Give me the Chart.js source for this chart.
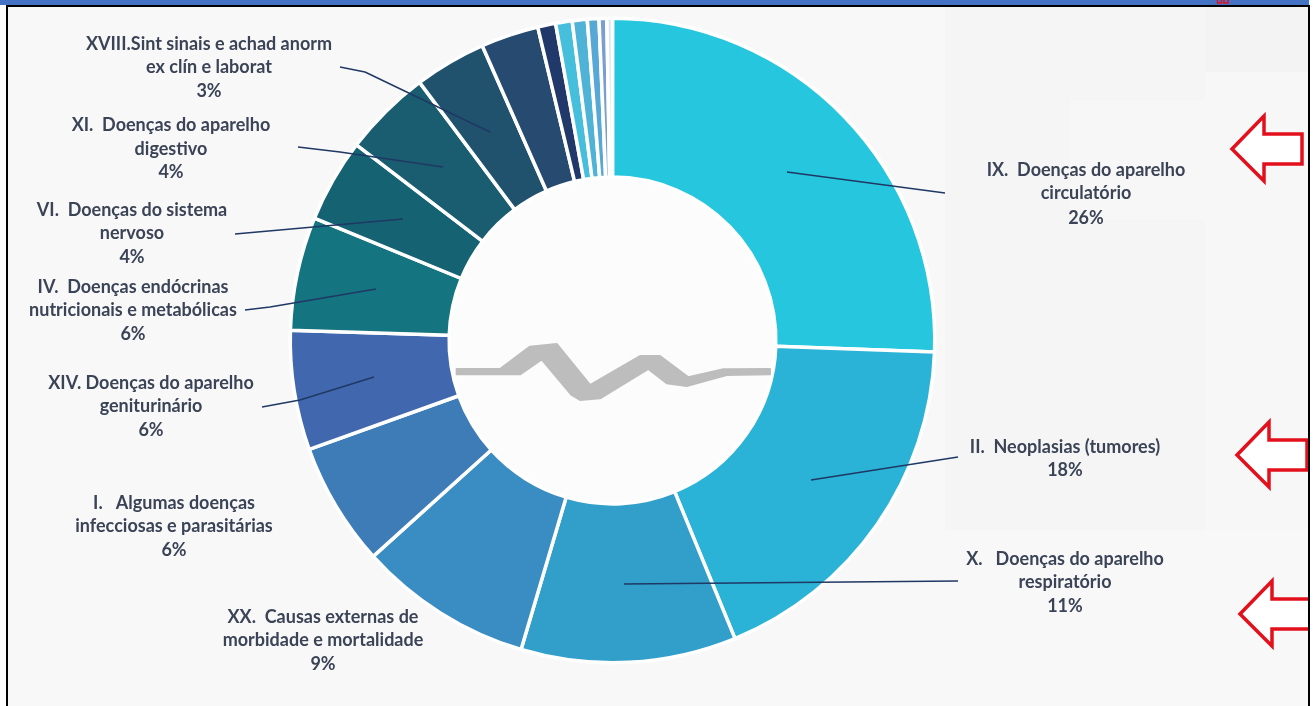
<!DOCTYPE html>
<html lang="pt"><head><meta charset="utf-8">
<style>html,body{margin:0;padding:0;background:#fff;overflow:hidden}canvas{display:block}</style>
<script src="https://cdn.jsdelivr.net/npm/chart.js@4"></script></head>
<body><div style="width:1315px;height:706px"><canvas id="c" width="1315" height="706"></canvas></div>
<script>
const categories = ["IX. Doenças do aparelho circulatório","II. Neoplasias (tumores)","X. Doenças do aparelho respiratório","XX. Causas externas de morbidade e mortalidade","I. Algumas doenças infecciosas e parasitárias","XIV. Doenças do aparelho geniturinário","IV. Doenças endócrinas nutricionais e metabólicas","VI. Doenças do sistema nervoso","XI. Doenças do aparelho digestivo","XVIII.Sint sinais e achad anorm ex clín e laborat","Outros 1","Outros 2","Outros 3","Outros 4","Outros 5","Outros 6","Outros 7"];
const values = [25.6,18.25,10.8,8.75,6.2,6.0,5.7,4.2,4.4,3.6,2.9,0.9,0.83,0.75,0.58,0.39,0.28];
const colors = ["#26C6DE","#2AB3D6","#319FCA","#3A8DC3","#3E7CB8","#4168AE","#14747F","#156273","#1A5C70","#20526E","#264A70","#20396A","#45BFDC","#4FB3D8","#58A8D5","#7A9FCC","#D8E8F0"];
const labelLines = [
 [1086,[["IX.  Doenças do aparelho",170],["circulatório",193],["26%",218]]],
 [1065,[["II.  Neoplasias (tumores)",447],["18%",470]]],
 [1065,[["X.   Doenças do aparelho",559],["respiratório",582],["11%",606]]],
 [323,[["XX.  Causas externas de",617],["morbidade e mortalidade",640],["9%",664]]],
 [174,[["I.   Algumas doenças",503],["infecciosas e parasitárias",526],["6%",550]]],
 [151,[["XIV. Doenças do aparelho",383],["geniturinário",406],["6%",430]]],
 [133,[["IV.  Doenças endócrinas",287],["nutricionais e metabólicas",310],["6%",334]]],
 [132,[["VI.  Doenças do sistema",210],["nervoso",233],["4%",257]]],
 [171,[["XI.  Doenças do aparelho",125],["digestivo",149],["4%",172]]],
 [209,[["XVIII.Sint sinais e achad anorm",44],["ex clín e laborat",67],["3%",91]]]
];
const leaders = [
 [[787,172],[945,193]],
 [[811,480],[958,457]],
 [[624,584],[958,581]],
 [[374,377],[300,400],[262,407]],
 [[376,289],[270,307],[245,310]],
 [[403,219],[235,234]],
 [[443,167],[340,152],[298,147]],
 [[490,132],[365,72],[340,67]]
];
const arrows = [[1232,116],[1237,422],[1240,581]];
const waveZoom = [[50,147],[180,147],[270,80],[350,72],[450,195],[600,108],[660,108],[745,172],[850,148],[990,147],[990,163],[860,165],[740,198],[680,190],[625,147],[480,235],[420,240],[395,225],[305,118],[240,163],[50,163]];
const bgPanels = [[945,0,260,530,"#f5f5f5"],[1070,100,135,120,"#f7f7f7"],[1205,0,105,72,"#f3f3f3"],[1205,72,105,458,"#f7f7f7"]];

const decor = {
 id:"decor",
 beforeDraw(ch){
  const x=ch.ctx; x.save();
  x.fillStyle="#f8f8f8"; x.fillRect(0,0,1315,706);
  bgPanels.forEach(p=>{x.fillStyle=p[4];x.fillRect(p[0],p[1],p[2],p[3]);});
  const a=ch.getDatasetMeta(0).data[0];
  x.fillStyle="#fcfcfc"; x.beginPath(); x.arc(a.x,a.y,a.innerRadius,0,Math.PI*2); x.fill();
  x.restore();
 },
 afterDraw(ch){
  const x=ch.ctx; x.save();
  x.fillStyle="#bdbdbd"; x.strokeStyle="#bdbdbd"; x.lineWidth=2; x.lineJoin="round"; x.beginPath();
  waveZoom.forEach((p,i)=>{const a=440+p[0]/3,b=320+p[1]/3; i?x.lineTo(a,b):x.moveTo(a,b);});
  x.closePath(); x.fill(); x.stroke();
  x.strokeStyle="#1f3864"; x.lineWidth=1.4;
  leaders.forEach(l=>{x.beginPath();l.forEach((p,i)=>i?x.lineTo(p[0],p[1]):x.moveTo(p[0],p[1]));x.stroke();});
  x.font="700 18px Lato"; x.fillStyle="#3b4456"; x.textAlign="center"; x.textBaseline="middle";
  labelLines.forEach(g=>g[1].forEach(t=>x.fillText(t[0],g[0],t[1])));
  x.strokeStyle="#e3101c"; x.fillStyle="#ffffff"; x.lineWidth=3.5; x.lineJoin="miter";
  arrows.forEach(a=>{const X=a[0],Y=a[1];x.beginPath();
   [[0,33],[32,0],[32,18],[70,18],[70,48],[32,48],[32,65]].forEach((p,i)=>i?x.lineTo(X+p[0],Y+p[1]):x.moveTo(X+p[0],Y+p[1]));
   x.closePath();x.fill();x.stroke();});
  x.fillStyle="#ffffff"; x.fillRect(0,0,6,706); x.fillRect(1310,0,5,706);
  x.fillStyle="#000"; x.fillRect(6,5,2,701); x.fillRect(1308,5,2,701); x.fillRect(6,5,1304,2);
  x.fillStyle="#4472C4"; x.fillRect(0,0,1309,5);
  x.strokeStyle="#e3101c"; x.lineWidth=1.5; x.strokeRect(1217.5,-2,4,5); x.strokeRect(1224,-2,4,5);
  x.restore();
 }
};
new Chart(document.getElementById("c"),{
 type:"doughnut",
 data:{labels:categories,datasets:[{data:values,backgroundColor:colors,borderColor:"#ffffff",borderWidth:3.5,borderAlign:"center"}]},
 options:{responsive:false,animation:false,cutout:"50.7%",
  layout:{padding:{left:288.5,right:378.5,top:16.5,bottom:41.5}},
  plugins:{legend:{display:false},tooltip:{enabled:false},title:{display:false}}},
 plugins:[decor]
});
</script></body></html>
